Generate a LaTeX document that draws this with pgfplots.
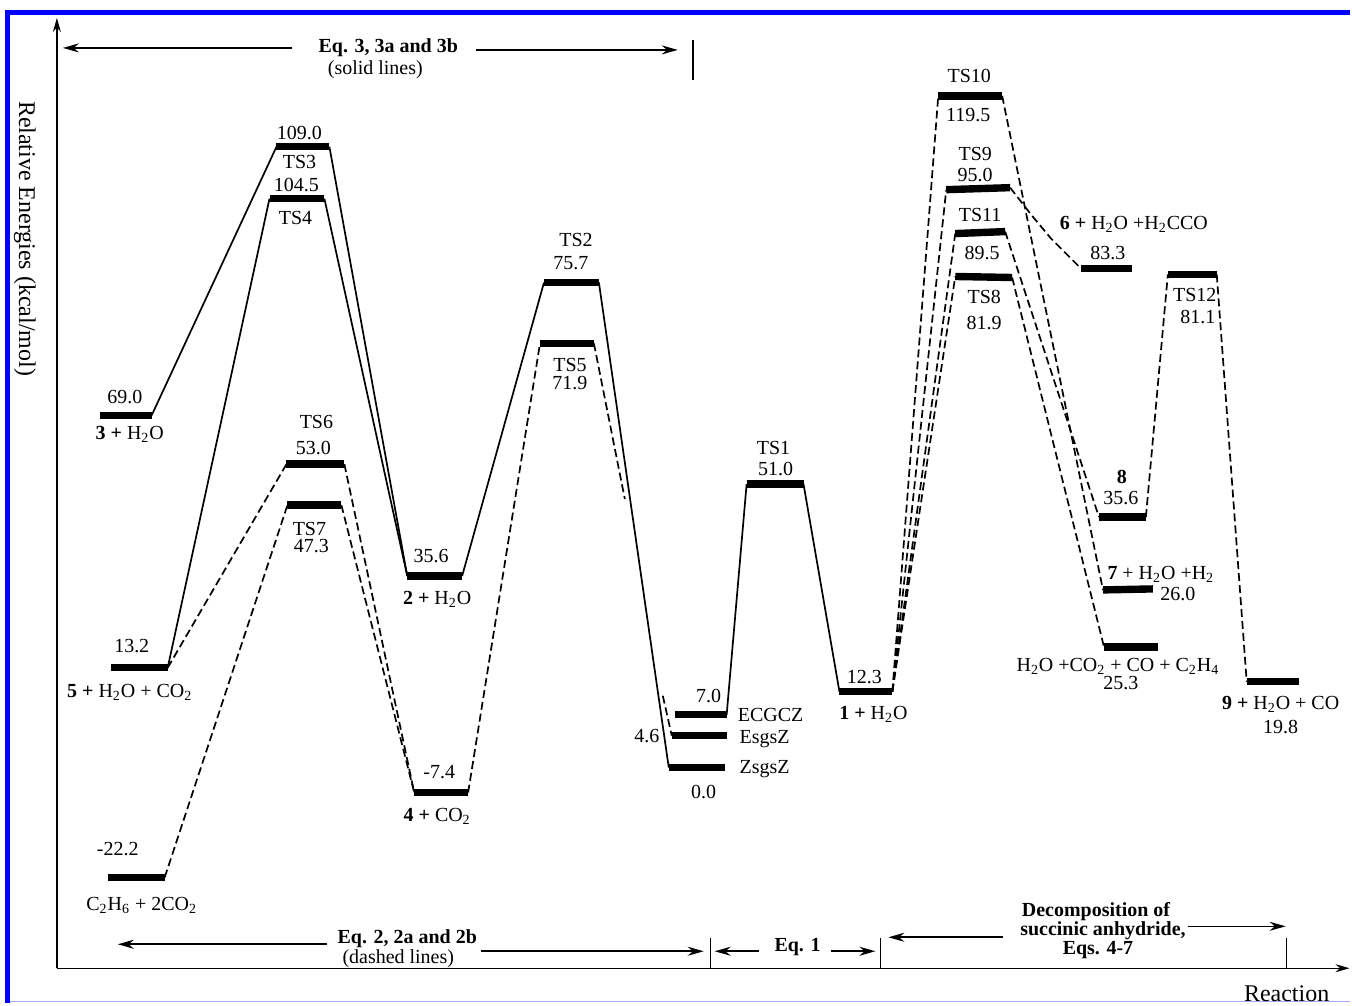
\documentclass[border=0pt]{standalone}
\usepackage{pgfplots}
\pgfplotsset{compat=1.18}
\usepackage{fontspec}
\setmainfont{Liberation Serif}
\usetikzlibrary{arrows.meta}
\tikzset{lbl/.style={inner sep=0pt,font=\fontsize{10}{12}\selectfont},
  blbl/.style={inner sep=0pt,font=\fontsize{10}{12}\selectfont\bfseries},
  axl/.style={inner sep=0pt,font=\fontsize{12}{14}\selectfont},
  arr/.style={-{Stealth[length=8pt,width=4.5pt]},line width=0.8pt}}
\pgfplotsset{lev/.style={line width=3.7pt,no markers},
  sol/.style={line width=0.85pt,no markers},
  dsh/.style={line width=0.85pt,dash pattern=on 4pt off 2pt,no markers}}
\newcommand{\lab}[3]{\node[lbl] at (axis cs:#1,#2) {#3};}
\newcommand{\sub}[1]{\textsubscript{#1}}
\begin{document}
\begin{tikzpicture}
\begin{axis}[width=676pt,height=502.5pt,scale only axis,
  xmin=0,xmax=1352,ymin=0,ymax=1005,y dir=reverse,hide axis,clip=false]
\addplot[draw=none] coordinates {(0,0) (1352,1005)};
% ---- energy levels (pixel positions) ----
\addplot[lev] coordinates {(100,416) (152,416)};   % 3+H2O 69.0
\addplot[lev] coordinates {(111,669) (168,669)};   % 5+H2O+CO2 13.2
\addplot[lev] coordinates {(108,879) (165,879)};   % C2H6 -22.2
\addplot[lev] coordinates {(277,147) (330,147)};   % TS3 109.0
\addplot[lev] coordinates {(270,199) (325,199)};   % TS4 104.5
\addplot[lev] coordinates {(287,465) (345,465)};   % TS6 53.0
\addplot[lev] coordinates {(288,506) (342,506)};   % TS7 47.3
\addplot[lev] coordinates {(408,577) (463,577)};   % 2+H2O 35.6
\addplot[lev] coordinates {(415,794) (469,794)};   % 4+CO2 -7.4
\addplot[lev] coordinates {(545,283) (600,283)};   % TS2 75.7
\addplot[lev] coordinates {(541,344) (595,344)};   % TS5 71.9
\addplot[lev] coordinates {(676,716) (728,716)};   % ECGCZ 7.0
\addplot[lev] coordinates {(673,737) (728,737)};   % EsgsZ 4.6
\addplot[lev] coordinates {(670,769) (726,769)};   % ZsgsZ 0.0
\addplot[lev] coordinates {(748,485) (805,485)};   % TS1 51.0
\addplot[lev] coordinates {(841,693) (894,693)};   % 1+H2O 12.3
\addplot[lev] coordinates {(940,96) (1004,96)};    % TS10 119.5
\addplot[lev] coordinates {(948,190) (1012,188)};  % TS9 95.0
\addplot[lev] coordinates {(957,234) (1007,232)};  % TS11 89.5
\addplot[lev] coordinates {(957,277) (1014,278)};  % TS8 81.9
\addplot[lev] coordinates {(1083,269) (1134,269)}; % 6 83.3
\addplot[lev] coordinates {(1170,275) (1219,275)}; % TS12 81.1
\addplot[lev] coordinates {(1101,518) (1148,518)}; % 8 35.6
\addplot[lev] coordinates {(1105,591) (1155,590)}; % 7 26.0
\addplot[lev] coordinates {(1106,648) (1160,648)}; % H2O+CO2+CO+C2H4 25.3
\addplot[lev] coordinates {(1249,683) (1301,683)}; % 9 19.8
% ---- solid connections ----
\addplot[sol] coordinates {(152,416) (277,147)};
\addplot[sol] coordinates {(330,147) (408,577)};
\addplot[sol] coordinates {(168,669) (270,199)};
\addplot[sol] coordinates {(325,199) (408,577)};
\addplot[sol] coordinates {(463,577) (545,283)};
\addplot[sol] coordinates {(600,283) (670,769)};
\addplot[sol] coordinates {(728,716) (748,485)};
\addplot[sol] coordinates {(805,485) (841,693)};
% ---- dashed connections ----
\addplot[dsh] coordinates {(168,669) (287,465)};
\addplot[dsh] coordinates {(165,879) (288,506)};
\addplot[dsh] coordinates {(345,465) (415,794)};
\addplot[dsh] coordinates {(342,506) (415,794)};
\addplot[dsh] coordinates {(469,794) (541,344)};
\addplot[dsh] coordinates {(595,344) (626,500)};
\addplot[dsh] coordinates {(664,697) (673,737)};
\addplot[dsh] coordinates {(894,693) (940,96)};
\addplot[dsh] coordinates {(894,693) (948,190)};
\addplot[dsh] coordinates {(894,693) (957,234)};
\addplot[dsh] coordinates {(894,693) (957,277)};
\addplot[dsh] coordinates {(1004,96) (1105,591)};
\addplot[dsh] coordinates {(1012,188) (1033,215) (1053,239) (1083,269)};
\addplot[dsh] coordinates {(1007,232) (1101,518)};
\addplot[dsh] coordinates {(1014,278) (1106,648)};
\addplot[dsh] coordinates {(1148,518) (1170,275)};
\addplot[dsh] coordinates {(1219,275) (1249,683)};
% ---- labels ----
\lab{125}{398}{69.0}
\lab{130}{435}{\textbf{3 +} H\sub{2}O}
\lab{132}{647}{13.2}
\lab{130}{694}{\textbf{5 +} H\sub{2}O + CO\sub{2}}
\lab{118}{851}{-22.2}
\lab{142}{907}{C\sub{2}H\sub{6} + 2CO\sub{2}}
\lab{300}{133}{109.0}
\lab{300}{162}{TS3}
\lab{297}{185}{104.5}
\lab{296}{218}{TS4}
\lab{317}{423}{TS6}
\lab{314}{449}{53.0}
\lab{310}{530}{TS7}
\lab{312}{547}{47.3}
\lab{432}{557}{35.6}
\lab{438}{600}{\textbf{2 +} H\sub{2}O}
\lab{440}{773}{-7.4}
\lab{438}{818}{\textbf{4 +} CO\sub{2}}
\lab{577}{240}{TS2}
\lab{572}{264}{75.7}
\lab{571}{366}{TS5}
\lab{571}{384}{71.9}
\lab{710}{697}{7.0}
\lab{772}{716}{ECGCZ}
\lab{648}{737}{4.6}
\lab{766}{740}{EsgsZ}
\lab{766}{771}{ZsgsZ}
\lab{705}{793}{0.0}
\lab{775}{449}{TS1}
\lab{777}{470}{51.0}
\lab{866}{678}{12.3}
\lab{875}{716}{\textbf{1 +} H\sub{2}O}
\lab{971}{76}{TS10}
\lab{970}{115}{119.5}
\lab{977}{154}{TS9}
\lab{977}{175}{95.0}
\lab{982}{215}{TS11}
\lab{984}{253}{89.5}
\lab{986}{298}{TS8}
\lab{986}{324}{81.9}
\lab{1136}{225}{\textbf{6 +} H\sub{2}O +H\sub{2}CCO}
\lab{1110}{253}{83.3}
\lab{1197}{296}{TS12}
\lab{1200}{318}{81.1}
\lab{1124}{478}{\textbf{8}}
\lab{1123}{499}{35.6}
\lab{1163}{575}{\textbf{7} + H\sub{2}O +H\sub{2}}
\lab{1180}{595}{26.0}
\lab{1120}{668}{H\sub{2}O +CO\sub{2} + CO + C\sub{2}H\sub{4}}
\lab{1123}{684}{25.3}
\lab{1283}{706}{\textbf{9 +} H\sub{2}O + CO}
\lab{1283}{728}{19.8}
% ---- frame, axes, annotations ----
\draw[blue,line width=2.5pt] (axis cs:7.5,1005) -- (axis cs:7.5,12.5) -- (axis cs:1352,12.5);
\draw[blue!35,line width=0.6pt] (axis cs:10,1003) -- (axis cs:1352,1003);
\draw[-{Stealth[length=7pt,width=4pt]},line width=0.7pt] (axis cs:57,970) -- (axis cs:57,18);
\draw[-{Stealth[length=7pt,width=4pt]},line width=0.7pt] (axis cs:57,970) -- (axis cs:1352,970);
\node[axl,rotate=-90] at (axis cs:25,239) {Relative Energies (kcal/mol)};
\node[axl] at (axis cs:1289,996) {Reaction};
% top
\draw[arr] (axis cs:293,48) -- (axis cs:63,48);
\draw[arr] (axis cs:477,50) -- (axis cs:679,50);
\draw[line width=0.8pt] (axis cs:694,40) -- (axis cs:694,80);
\node[blbl] at (axis cs:389,48) {Eq. 3, 3a and 3b};
\node[lbl] at (axis cs:376,70) {(solid lines)};
% bottom
\draw[arr] (axis cs:328,946) -- (axis cs:118,946);
\node[blbl] at (axis cs:408,940) {Eq. 2, 2a and 2b};
\node[lbl] at (axis cs:399,960) {(dashed lines)};
\draw[arr] (axis cs:482,953) -- (axis cs:705,953);
\draw[line width=0.8pt] (axis cs:712,940) -- (axis cs:712,970);
\draw[arr] (axis cs:760,953) -- (axis cs:716,953);
\node[blbl] at (axis cs:799,949) {Eq. 1};
\draw[arr] (axis cs:833,953) -- (axis cs:877,953);
\draw[line width=0.8pt] (axis cs:882,940) -- (axis cs:882,970);
\draw[arr] (axis cs:1005,939) -- (axis cs:890,939);
\node[blbl] at (axis cs:1098,913) {Decomposition of};
\node[blbl] at (axis cs:1105,932) {succinic anhydride,};
\node[blbl] at (axis cs:1100,952) {Eqs. 4-7};
\draw[arr] (axis cs:1190,928) -- (axis cs:1288,928);
\draw[line width=0.8pt] (axis cs:1289,940) -- (axis cs:1289,970);
\end{axis}
\end{tikzpicture}
\end{document}
